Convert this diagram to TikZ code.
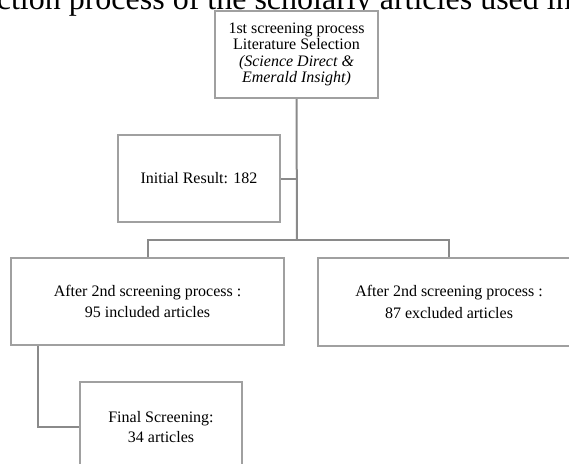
\documentclass[tikz,border=0pt]{standalone}
\usepackage{fontspec}
\setmainfont{Liberation Serif}
\usepackage{xcolor}
\usepackage{tikz}
\usetikzlibrary{positioning, calc}
\definecolor{boxgray}{HTML}{A0A0A0}
\definecolor{linegray}{HTML}{8A8A8A}

\tikzset{
    flowbox/.style={draw=boxgray, line width=1.5pt, fill=white, align=center,
                    font=\fontsize{12}{16}\selectfont, inner sep=2pt},
    flowline/.style={draw=linegray, line width=1.5pt}
}

\begin{document}
\begin{tikzpicture}[x=0.75pt, y=-0.75pt]
    \useasboundingbox (0,0) rectangle (569,464);
    \clip (0,0) rectangle (569,464);
    \node[anchor=base east, font=\fontsize{24}{28}\selectfont, inner sep=0pt] (title) at (572,10)
        {ection process of the scholarly articles used in};

    \node[flowbox, minimum width=122.25pt, minimum height=65.25pt,
          font=\fontsize{12}{12.2}\selectfont] (sel) at (296.5,54.5)
        {1st screening process\\Literature Selection\\\textit{(Science Direct \&}\\\textit{Emerald Insight)}};
    \node[flowbox, minimum width=121.5pt, minimum height=65.25pt] (init) at (199,178.5)
        {Initial Result: 182};
    \node[flowbox, minimum width=204.75pt, minimum height=65.25pt] (inc) at (147.5,301.5)
        {After 2nd screening process :\\95 included articles};
    \node[flowbox, minimum width=196.5pt, minimum height=66pt] (exc) at (449,302)
        {After 2nd screening process :\\87 excluded articles};
    \node[flowbox, minimum width=121.5pt, minimum height=67.5pt,
          font=\fontsize{12}{15}\selectfont] (fin) at (161,427)
        {Final Screening:\\34 articles};

    \coordinate (split) at (297,240);
    \draw[flowline] (sel.south) -- (split);
    \draw[flowline] (init.east) -- (init.east -| split);
    \draw[flowline] (inc.north) |- (split) -| (exc.north);
    \draw[flowline] ([xshift=21pt]inc.south west) |- (fin.west);
\end{tikzpicture}
\end{document}
